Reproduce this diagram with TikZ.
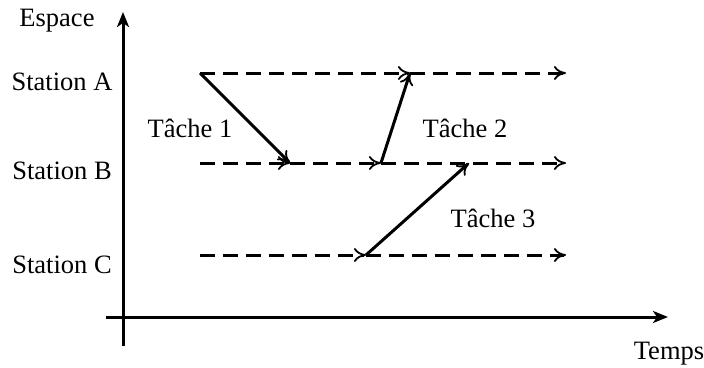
\documentclass[tikz,border=0pt]{standalone}
\usepackage{fontspec}
\setmainfont{Liberation Serif}
\usetikzlibrary{arrows.meta}
\begin{document}
\begin{tikzpicture}[x=1pt,y=-1pt,
  lbl/.style={font=\fontsize{26.5}{31}\selectfont, inner sep=0pt, anchor=base},
  dsh/.style={line width=3pt, dash pattern=on 15pt off 8pt, -{To[length=12pt,width=14pt,line width=1.8pt]}},
  task/.style={line width=3pt, -{To[length=12pt,width=14pt,line width=1.8pt]}},
  axis/.style={line width=3pt, -{Stealth[length=15pt,width=12pt,inset=4pt]}}]
\useasboundingbox (0,0) rectangle (704,367);
% axes
\coordinate (ybot) at (123,346);
\coordinate (ytop) at (123,12);
\coordinate (xleft) at (106,317);
\coordinate (xright) at (668,317);
\draw[axis] (ybot) -- (ytop);
\draw[axis] (xleft) -- (xright);
% row points
\coordinate (A0) at (200,73);
\coordinate (A1) at (410,73);
\coordinate (A2) at (566,73);
\coordinate (B0) at (200,163);
\coordinate (B1) at (290,163);
\coordinate (B2) at (381,163);
\coordinate (B3) at (469,163);
\coordinate (B4) at (566,163);
\coordinate (C0) at (200,255);
\coordinate (C1) at (366,255);
\coordinate (C2) at (566,255);
% dashed timelines
\draw[dsh] (A0) -- (A1);
\draw[dsh] (A1) -- (A2);
\draw[dsh] (B0) -- (B1);
\draw[dsh] (B1) -- (B2);
\draw[dsh] (B2) -- (B4);
\draw[dsh] (C0) -- (C1);
\draw[dsh] (C1) -- (C2);
% tasks
\draw[task] (A0) -- (B1);
\draw[task] (B2) -- (A1);
\draw[task] (C1) -- (B3);
% labels
\node[lbl] (esp) at (57,26) {Espace};
\node[lbl] (sa) at (62,90) {Station A};
\node[lbl] (sb) at (62,179) {Station B};
\node[lbl] (sc) at (62,273) {Station C};
\node[lbl] (tps) at (669,359) {Temps};
\node[lbl] (t1) at (190,137) {Tâche 1};
\node[lbl] (t2) at (465,137) {Tâche 2};
\node[lbl] (t3) at (493,227) {Tâche 3};
\end{tikzpicture}
\end{document}
